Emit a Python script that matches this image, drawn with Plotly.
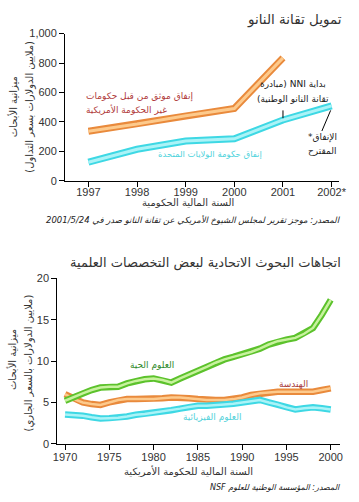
import plotly.graph_objects as go

# ---------------- data: top chart (nanotech funding) ----------------
nano_tick_years = [1997, 1998, 1999, 2000, 2001, 2002]
nano_tick_labels = ["1997", "1998", "1999", "2000", "2001", "2002*"]
nano_y_ticks = [0, 200, 400, 600, 800, 1000]

non_us_years = [1997, 1998, 1999, 2000, 2001]
non_us_spending = [336, 385, 442, 491, 835]

us_years = [1997, 1998, 1999, 2000, 2001, 2002]
us_spending = [126, 214, 270, 285, 413, 509]

# ---------------- data: bottom chart (federal research trends) ----------------
fed_years = list(range(1970, 2001))
life_sciences = [5.2, 5.7, 6.1, 6.5, 6.8, 6.9, 6.9, 7.3, 7.6, 7.8, 7.9, 7.7, 7.4, 7.9, 8.4,
                 8.8, 9.3, 9.8, 10.2, 10.5, 10.8, 11.1, 11.5, 12.0, 12.4, 12.6, 12.8, 13.3,
                 14.0, 15.6, 17.4]
engineering = [6.0, 5.4, 5.0, 4.8, 4.7, 5.0, 5.3, 5.4, 5.4, 5.4, 5.4, 5.5, 5.6, 5.6, 5.5,
               5.4, 5.3, 5.3, 5.3, 5.4, 5.6, 5.9, 6.1, 6.2, 6.3, 6.3, 6.3, 6.3, 6.3, 6.5, 6.7]
physical_sciences = [3.55, 3.5, 3.4, 3.2, 3.05, 3.1, 3.15, 3.3, 3.5, 3.6, 3.75, 3.9, 4.05,
                     4.25, 4.45, 4.6, 4.6, 4.65, 4.75, 4.85, 5.0, 5.2, 5.3, 5.0, 4.75, 4.4,
                     4.15, 4.3, 4.4, 4.3, 4.15]
fed_tick_years = [1970, 1975, 1980, 1985, 1990, 1995, 2000]
fed_y_ticks = [0, 5, 10, 15, 20]

# ---------------- styling ----------------
W, H = 359, 502
AR = "DejaVu Sans"
LAT = "Liberation Sans, Arial, sans-serif"
RLE, PDF = "\u202b", "\u202c"


def px(x):
    return x / W


def py(y):
    return 1 - y / H


def rtl(s):
    return RLE + s + PDF


ORANGE = ("#e98a3c", "#fdca8c")
CYAN = ("#3ed8e4", "#aaf3f7")
GREEN = ("#5cc22c", "#c8f29e")

fig = go.Figure()


def add_series(x, y, colors, xa, ya, wo, wi):
    fig.add_trace(go.Scatter(x=x, y=y, mode="lines", xaxis=xa, yaxis=ya,
                             line=dict(color=colors[0], width=wo), hoverinfo="skip"))
    fig.add_trace(go.Scatter(x=x, y=y, mode="lines", xaxis=xa, yaxis=ya,
                             line=dict(color=colors[1], width=wi), hoverinfo="skip"))


add_series(non_us_years, non_us_spending, ORANGE, "x", "y", 7, 3)
add_series(us_years, us_spending, CYAN, "x", "y", 7, 3)

add_series(fed_years, engineering, ORANGE, "x2", "y2", 6.5, 2.5)
add_series(fed_years, physical_sciences, CYAN, "x2", "y2", 6.5, 2.5)
add_series(fed_years, life_sciences, GREEN, "x2", "y2", 6.5, 2.5)

axis_common = dict(showline=True, linecolor="black", linewidth=1, ticks="outside",
                   ticklen=5, tickcolor="black", showgrid=False, zeroline=False,
                   tickfont=dict(family=LAT, size=11, color="#333"), fixedrange=True)

fig.update_layout(
    width=W, height=H, margin=dict(l=0, r=0, t=0, b=0),
    paper_bgcolor="white", plot_bgcolor="white", showlegend=False,
    xaxis=dict(domain=[px(63), px(346)], range=[1996.52, 2002.16], anchor="y",
               tickvals=nano_tick_years, ticktext=nano_tick_labels,
               ticklabelstandoff=-4, **axis_common),
    yaxis=dict(domain=[py(179), py(28.3)], range=[0, 1000], anchor="x",
               tickvals=nano_y_ticks, tickformat=",", **axis_common),
    xaxis2=dict(domain=[px(55), px(347)], range=[1969.13, 2001.09], anchor="y2",
                tickvals=fed_tick_years, ticklabelstandoff=-2, **axis_common),
    yaxis2=dict(domain=[py(448.5), py(279)], range=[0, 20], anchor="x2",
                tickvals=fed_y_ticks, **axis_common),
)


def ann(text, x, y, size=10, color="#333", xanchor="center", angle=0):
    fig.add_annotation(text=text, x=px(x), y=py(y), xref="paper", yref="paper",
                       showarrow=False, xanchor=xanchor, yanchor="middle",
                       textangle=angle, font=dict(family=AR, size=size, color=color))


# top chart texts
ann(rtl("تمويل تقانة النانو"), 351, 14, size=13.5, color="#333", xanchor="right")
ann(rtl("ميزانية الأبحاث"), 9, 103, size=10, angle=-90)
ann(rtl("(ملايين الدولارات بسعر التداول)"), 26, 103, size=10, angle=-90)
ann(rtl("السنة المالية الحكومية"), 190, 201, size=10)
ann("<i>" + rtl("المصدر: موجز تقرير لمجلس الشيوخ الأمريكي عن تقانة النانو صدر في 2001/5/24") + "</i>",
    350, 219, size=8.5, color="#222", xanchor="right")
ann(rtl("إنفاق موثق من قبل حكومات"), 83, 93, size=9, color="#b03a3a", xanchor="left")
ann(rtl("غير الحكومة الأمريكية"), 83, 106, size=9, color="#b03a3a", xanchor="left")
ann(rtl("إنفاق حكومة الولايات المتحدة"), 213, 152, size=8.5, color="#4fd3dc")
ann(rtl("بداية NNI (مبادرة"), 298, 80, size=9, color="#222")
ann(rtl("تقانة النانو الوطنية)"), 298, 95, size=9, color="#222")
ann(rtl("الإنفاق*"), 329, 135, size=9, color="#222")
ann(rtl("المقترح"), 329, 149, size=9, color="#222")

# bottom chart texts
ann(rtl("اتجاهات البحوث الاتحادية لبعض التخصصات العلمية"), 350, 263, size=13, color="#333", xanchor="right")
ann(rtl("ميزانية الأبحاث"), 9, 362, size=10, angle=-90)
ann(rtl("(ملايين الدولارات بالسعر الجاري)"), 26, 366, size=10, angle=-90)
ann(rtl("السنة المالية للحكومة الأمريكية"), 190, 476, size=10)
ann("<i>" + rtl("المصدر: المؤسسة الوطنية للعلوم NSF") + "</i>", 349, 493, size=8,
    color="#222", xanchor="right")
ann(rtl("العلوم الحية"), 153, 368, size=9, color="#2f8a2a")
ann(rtl("الهندسة"), 299, 387, size=9, color="#a83a3a")
ann(rtl("العلوم الفيزيائية"), 215, 421, size=9, color="#55d2da")

# pointer lines
fig.add_shape(type="line", xref="x", yref="y", x0=2001, x1=2001, y0=425, y1=478,
              line=dict(color="black", width=1))
fig.add_shape(type="line", xref="x", yref="y", x0=2001.8, x1=2001.98, y0=338, y1=478,
              line=dict(color="black", width=1))

fig.write_html("out.html", config={"displayModeBar": False},
               post_script="document.body.style.margin='0';document.body.style.overflow='hidden';")
